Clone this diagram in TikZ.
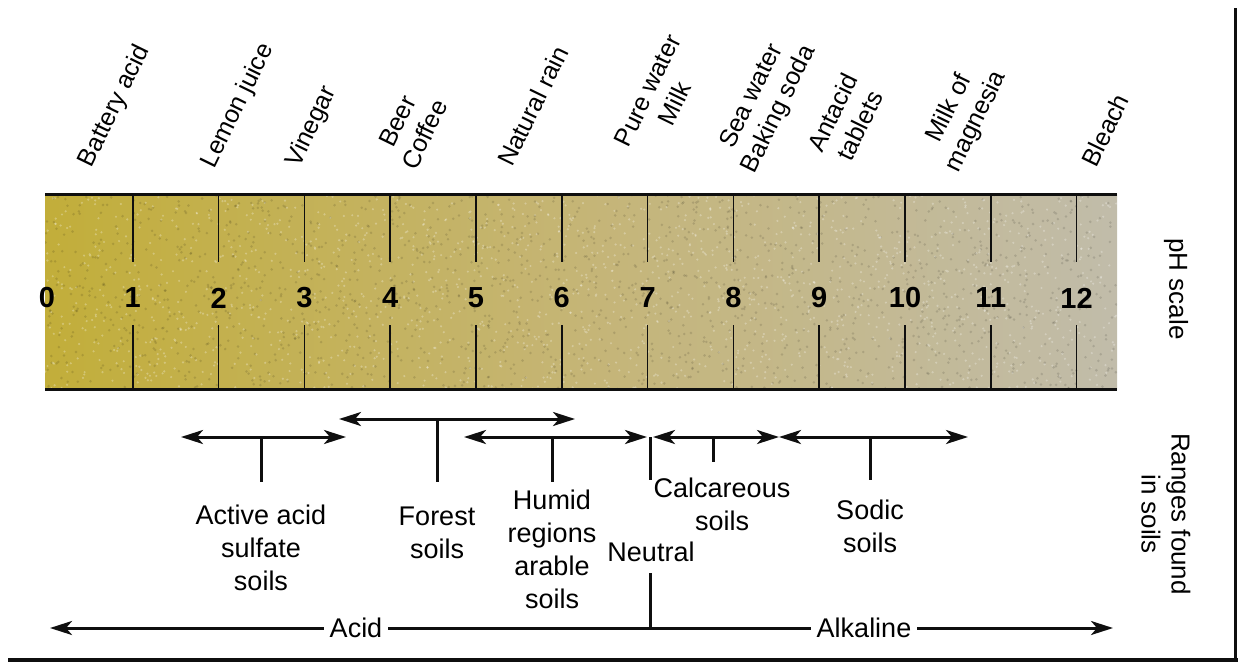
\documentclass[tikz,border=0pt]{standalone}
\usepackage{fontspec}
\setmainfont{Liberation Sans}
\usepackage{tikz}
\usepackage{xcolor}
\usetikzlibrary{arrows.meta,calc,positioning}
\definecolor{phGold}{RGB}{194,174,58}
\definecolor{phSand}{RGB}{197,181,118}
\definecolor{phAsh}{RGB}{193,188,170}
\definecolor{phInk}{RGB}{15,15,15}
\tikzset{
  rng/.style={draw=phInk,line width=3pt,<->},
  stem/.style={draw=phInk,line width=3pt},
  tick/.style={draw=phInk,line width=1.5pt},
  item/.style={rotate=64,inner sep=0pt,align=center,font=\fontsize{25}{30}\selectfont},
  soil/.style={inner sep=0pt,align=center,font=\fontsize{27}{33}\selectfont},
  side/.style={rotate=-90,inner sep=0pt,align=center,font=\fontsize{26}{30}\selectfont},
  num/.style={inner sep=0pt,font=\fontsize{29}{30}\selectfont\bfseries},
  tag/.style={inner xsep=6pt,inner ysep=0pt,font=\fontsize{27}{30}\selectfont}
}

\begin{document}
\begin{tikzpicture}[x=1pt,y=-1pt,>={Stealth[length=22pt,width=14pt,inset=6pt]}]
  \useasboundingbox (0,0) rectangle (1238,662);
  % the pH bar
  \shade[left color=phGold,right color=phAsh,middle color=phSand] (45,194) rectangle (1117,389);
  \begin{scope}
    \clip (45,194) rectangle (1117,389);
    \pgfmathsetseed{11}
    \foreach \i in {1,...,1600}{
      \fill[white,opacity=0.28] ({45+1072*rnd},{194+195*rnd}) circle[radius=1.2pt];
      \fill[black,opacity=0.12] ({45+1072*rnd},{194+195*rnd}) circle[radius=1.4pt];
    }
  \end{scope}
  \draw[line width=3pt,draw=phInk] (45,194) -- (1117,194) (45,389) -- (1117,389);
  \foreach \n in {1,...,12}{
    \draw[tick] ({47+85.8*\n},194) -- ({47+85.8*\n},262);
    \draw[tick] ({47+85.8*\n},325) -- ({47+85.8*\n},389);
  }
  \foreach \n in {0,...,12}
    \node[num] (ph\n) at ({47+85.8*\n},298) {\n};

  \node[item] (battery) at (115,106) {Battery acid};
  \node[item] (lemon) at (238,106) {Lemon juice};
  \node[item] (vinegar) at (312,127) {Vinegar};
  \node[item] (beer) at (411,128) {Beer\\Coffee};
  \node[item] (rain) at (533,106) {Natural rain};
  \node[item] (purewater) at (661,97) {Pure water\\Milk};
  \node[item] (seawater) at (766,103) {Sea water\\Baking soda};
  \node[item] (antacid) at (846,119) {Antacid\\tablets};
  \node[item] (magnesia) at (963,115) {Milk of\\magnesia};
  \node[item] (bleach) at (1105,130) {Bleach};

  \node[side] (phscale) at (1176,289) {pH scale};
  \node[side] (ranges) at (1166,514) {Ranges found\\in soils};

  % soil ranges
  \coordinate (asL) at (181,437); \coordinate (asR) at (346,437); \coordinate (asF) at (261,482);
  \coordinate (fsL) at (339,419); \coordinate (fsR) at (575,419); \coordinate (fsF) at (437,482);
  \coordinate (hmL) at (464,437); \coordinate (hmR) at (647,437); \coordinate (hmF) at (552,482);
  \coordinate (caL) at (653,437); \coordinate (caR) at (779,437); \coordinate (caF) at (713,462);
  \coordinate (soL) at (779,437); \coordinate (soR) at (968,437); \coordinate (soF) at (870,480);
  \coordinate (ntF) at (650,480);
  \draw[rng] (asL) -- (asR);
  \draw[rng] (fsL) -- (fsR);
  \draw[rng] (hmL) -- (hmR);
  \draw[rng] (caL) -- (caR);
  \draw[rng] (soL) -- (soR);
  \draw[stem] (asF |- asL) -- (asF);
  \draw[stem] (fsF |- fsL) -- (fsF);
  \draw[stem] (hmF |- hmL) -- (hmF);
  \draw[stem] (caF |- caL) -- (caF);
  \draw[stem] (soF |- soL) -- (soF);
  \draw[stem] (ntF |- hmR) -- (ntF);
  \node[soil,below=23pt of asF] (acidsulf) {Active acid\\sulfate\\soils};
  \node[soil,below=25pt of fsF] (forest) {Forest\\soils};
  \node[soil,below=8pt of hmF] (humid) {Humid\\regions\\arable\\soils};
  \node[soil,below=16pt of caF,xshift=9pt] (calc) {Calcareous\\soils};
  \node[soil,below=20pt of soF] (sodic) {Sodic\\soils};
  \node[soil] (neutral) at (651,552) {Neutral};

  % acid / alkaline line
  \coordinate (acL) at (50,628); \coordinate (akR) at (1113,628);
  \coordinate (nbT) at (650,573);
  \node[tag] (acid) at (356,628) {Acid};
  \node[tag] (alk) at (864,628) {Alkaline};
  \draw[stem,<-] (acL) -- (acid.west);
  \draw[stem] (acid.east) -- (alk.west);
  \draw[stem,->] (alk.east) -- (akR);
  \draw[stem] (nbT) -- (nbT |- acL);

  \draw[line width=2.5pt,draw=phInk] (1235.5,8) -- (1235.5,662);
  \draw[line width=4pt,draw=phInk] (8,659.5) -- (1238,659.5);
\end{tikzpicture}
\end{document}
